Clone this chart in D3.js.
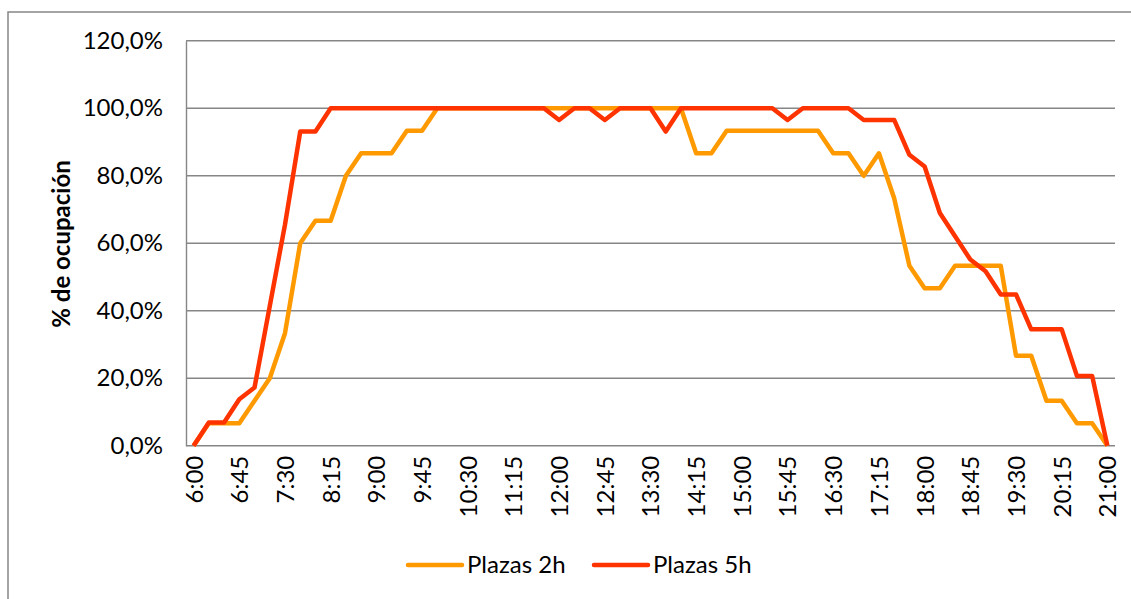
<!DOCTYPE html>
<html><head><meta charset="utf-8">
<script src="https://cdn.jsdelivr.net/npm/d3@7"></script>
<style>html,body{margin:0;padding:0;background:#fff;}svg{display:block;font-family:Lato,"Open Sans",sans-serif;}</style>
</head><body><svg id="c" width="1131" height="599"></svg>
<script>
const categories = ["6:00","6:15","6:30","6:45","7:00","7:15","7:30","7:45","8:00","8:15","8:30","8:45","9:00","9:15","9:30","9:45","10:00","10:15","10:30","10:45","11:00","11:15","11:30","11:45","12:00","12:15","12:30","12:45","13:00","13:15","13:30","13:45","14:00","14:15","14:30","14:45","15:00","15:15","15:30","15:45","16:00","16:15","16:30","16:45","17:00","17:15","17:30","17:45","18:00","18:15","18:30","18:45","19:00","19:15","19:30","19:45","20:00","20:15","20:30","20:45","21:00"];
const plazas2h = [0,6.67,6.67,6.67,13.33,20,33.33,60,66.67,66.67,80,86.67,86.67,86.67,93.33,93.33,100,100,100,100,100,100,100,100,100,100,100,100,100,100,100,100,100,86.67,86.67,93.33,93.33,93.33,93.33,93.33,93.33,93.33,86.67,86.67,80,86.67,73.33,53.33,46.67,46.67,53.33,53.33,53.33,53.33,26.67,26.67,13.33,13.33,6.67,6.67,0];
const plazas5h = [0,6.9,6.9,13.79,17.24,41.38,65.52,93.1,93.1,100,100,100,100,100,100,100,100,100,100,100,100,100,100,100,96.55,100,100,96.55,100,100,100,93.1,100,100,100,100,100,100,100,96.55,100,100,100,100,96.55,96.55,96.55,86.21,82.76,68.97,62.07,55.17,51.72,44.83,44.83,34.48,34.48,34.48,20.69,20.69,0];
const seriesNames = ["Plazas 2h","Plazas 5h"];
const yTicks = [0,20,40,60,80,100,120];
const yTickLabels = ["0,0%","20,0%","40,0%","60,0%","80,0%","100,0%","120,0%"];
const xTickLabels = ["6:00","6:45","7:30","8:15","9:00","9:45","10:30","11:15","12:00","12:45","13:30","14:15","15:00","15:45","16:30","17:15","18:00","18:45","19:30","20:15","21:00"];
const yTitle = "% de ocupación";

const colors = ["#FF9900","#FF3300"];
const grid = "#868686";
const svg = d3.select("#c");

// outer chart border
svg.append("rect").attr("x",8).attr("y",12).attr("width",1200).attr("height",700)
  .attr("fill","none").attr("stroke",grid).attr("stroke-width",1.5);

const x = d3.scalePoint().domain(categories).range([186,1115]).padding(0.5);
const y = d3.scaleLinear().domain([0,120]).range([445.7,40.8]);

// gridlines
svg.append("g").selectAll("line").data(yTicks.filter(d=>d>0)).join("line")
  .attr("x1",186).attr("x2",1115).attr("y1",d=>y(d)).attr("y2",d=>y(d))
  .attr("stroke",grid).attr("stroke-width",1.4);

// axes
const yAxis = d3.axisLeft(y).tickValues(yTicks).tickFormat((d,i)=>yTickLabels[i]).tickSize(0).tickPadding(23);
const gy = svg.append("g").attr("transform","translate(186,0)").call(yAxis);
gy.select(".domain").attr("stroke",grid).attr("stroke-width",1.4);
gy.selectAll("text").attr("font-size",24).attr("fill","#000").attr("font-family","Lato,sans-serif");

const xAxis = d3.axisBottom(x).tickValues(xTickLabels).tickSize(0);
const gx = svg.append("g").attr("transform","translate(0,445.7)").call(xAxis);
gx.select(".domain").attr("stroke",grid).attr("stroke-width",1.4).attr("d","M186,0H1115");
gx.selectAll("text").attr("font-size",24).attr("fill","#000").attr("font-family","Lato,sans-serif")
  .attr("text-anchor","end").attr("transform","rotate(-90)").attr("x",-10).attr("y",0).attr("dy","0.35em");

// y title
svg.append("text").attr("transform","translate(62,244) rotate(-90)").attr("text-anchor","middle")
  .attr("dy","0.35em").attr("font-size",24).attr("font-weight","bold").text(yTitle);

// lines
const line = d3.line().x((d,i)=>x(categories[i])).y(d=>y(d));
[plazas2h,plazas5h].forEach((s,k)=>{
  svg.append("path").datum(s).attr("d",line).attr("fill","none").attr("stroke",colors[k])
    .attr("stroke-width",4.5).attr("stroke-linejoin","round");
});

// legend
const legX = [408,594];
seriesNames.forEach((n,k)=>{
  const g = svg.append("g").attr("transform",`translate(${legX[k]},565)`);
  g.append("line").attr("x1",0).attr("x2",54).attr("stroke",colors[k]).attr("stroke-width",4.5).attr("stroke-linecap","round");
  g.append("text").attr("x",59).attr("dy","0.35em").attr("font-size",24).text(n);
});
</script></body></html>
